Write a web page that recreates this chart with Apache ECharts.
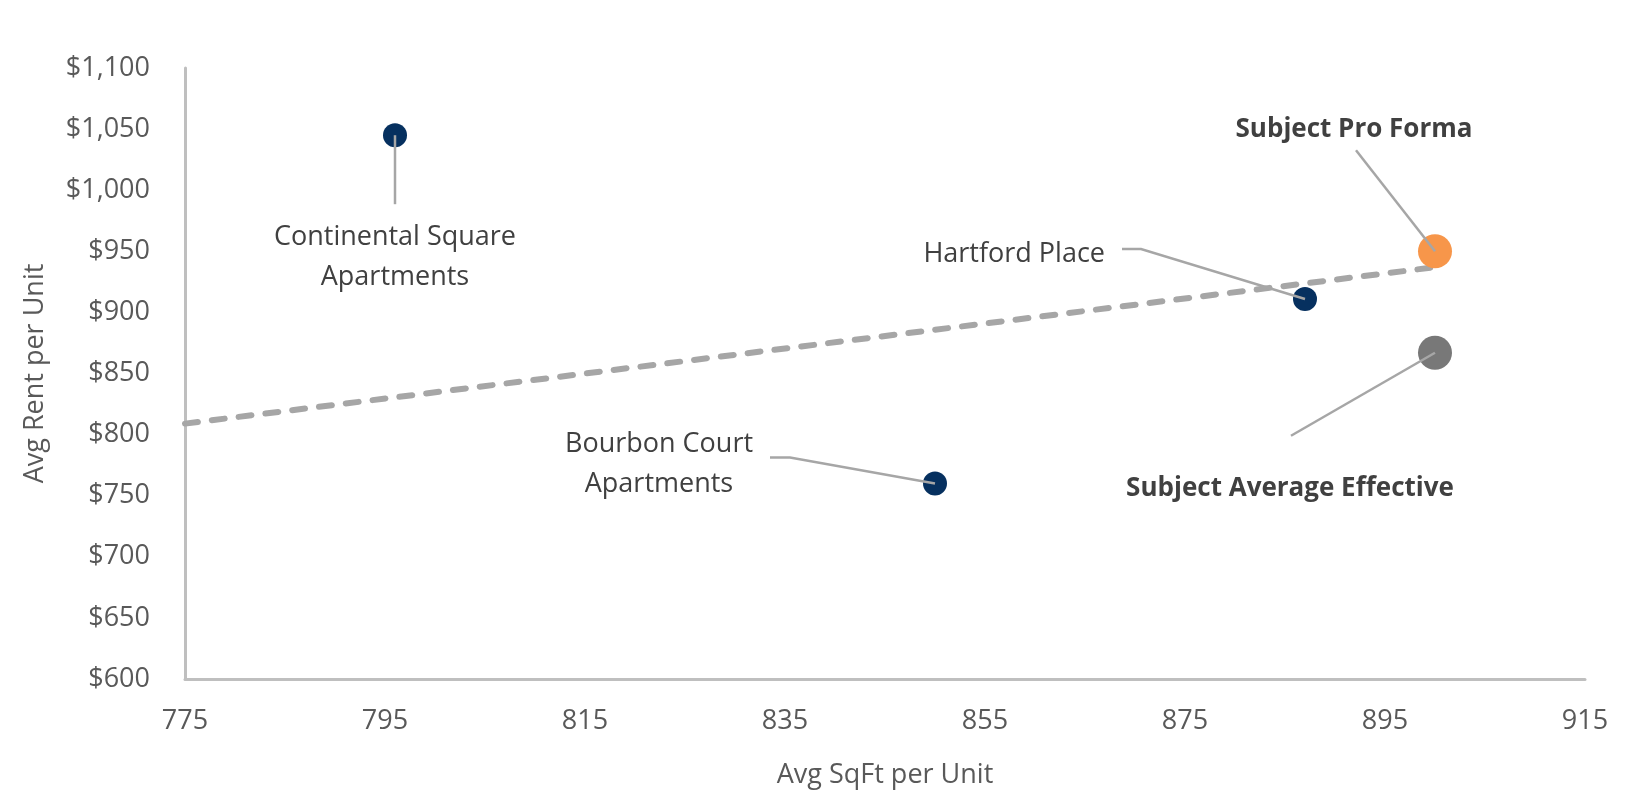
<!DOCTYPE html>
<html>
<head>
<meta charset="utf-8">
<script src="https://cdn.jsdelivr.net/npm/echarts@6/dist/echarts.min.js"></script>
<style>
  html, body { margin: 0; padding: 0; background: #ffffff; }
  #chart { width: 1635px; height: 811px; }
</style>
</head>
<body>
<div id="chart"></div>
<script>
// ---- data ----
const compNames = ['Continental Square\nApartments', 'Bourbon Court\nApartments', 'Hartford Place'];
const compSqFt = [796, 850, 887];
const compRent = [1045, 760, 911];
const subjectNames = ['Subject Pro Forma', 'Subject Average Effective'];
const subjectSqFt = [900, 900];
const subjectRent = [950, 867];
const trendSqFt = [775, 900];
const trendRent = [809, 937];
const xTickValues = [775, 795, 815, 835, 855, 875, 895, 915];
const yTickValues = [600, 650, 700, 750, 800, 850, 900, 950, 1000, 1050, 1100];

// ---- label styling (pixel offsets from the point, style only) ----
const labelStyles = [
  { line: [[0, 0], [0, 69]], text: [0, 122], align: 'center', size: 27, bold: false },
  { line: [[0, 0], [-145, -26], [-165, -26]], text: [-276, -19], align: 'center', size: 27, bold: false },
  { line: [[0, 0], [-164, -50], [-183, -50]], text: [-200, -45], align: 'right', size: 27, bold: false },
  { line: [[0, 0], [-79, -101]], text: [-81, -122], align: 'center', size: 26, bold: true },
  { line: [[0, 0], [-144, 83]], text: [-145, 136], align: 'center', size: 26, bold: true }
];

const FONT = '"Open Sans", "Noto Sans", sans-serif';
const allNames = compNames.concat(subjectNames);
const allX = compSqFt.concat(subjectSqFt);
const allY = compRent.concat(subjectRent);
const labelData = allNames.map((n, i) => ({ name: n, value: [allX[i], allY[i]] }));

function money(v) {
  return '$' + String(v).replace(/\B(?=(\d{3})+(?!\d))/g, ',');
}

const chart = echarts.init(document.getElementById('chart'), null, { renderer: 'canvas' });
chart.setOption({
  animation: false,
  backgroundColor: '#ffffff',
  grid: { left: 185, right: 50, top: 68, bottom: 132, containLabel: false },
  xAxis: {
    type: 'value',
    min: 775,
    max: 915,
    name: 'Avg SqFt per Unit',
    nameLocation: 'middle',
    nameGap: 83,
    nameTextStyle: { fontFamily: FONT, fontSize: 27, color: '#595959' },
    axisLine: { show: true, lineStyle: { color: '#BFBFBF', width: 3 } },
    axisTick: { show: false },
    splitLine: { show: false },
    axisLabel: {
      customValues: xTickValues,
      margin: 29,
      fontFamily: FONT, fontSize: 27, color: '#595959'
    }
  },
  yAxis: {
    type: 'value',
    min: 600,
    max: 1100,
    interval: 50,
    name: 'Avg Rent per Unit',
    nameLocation: 'middle',
    nameGap: 136,
    nameTextStyle: { fontFamily: FONT, fontSize: 27, color: '#595959' },
    axisLine: { show: true, lineStyle: { color: '#BFBFBF', width: 3 } },
    axisTick: { show: false },
    splitLine: { show: false },
    axisLabel: {
      customValues: yTickValues,
      margin: 35,
      fontFamily: FONT, fontSize: 27, color: '#595959',
      formatter: money
    }
  },
  series: [
    {
      type: 'line',
      name: 'Trend',
      data: trendSqFt.map((x, i) => [x, trendRent[i]]),
      symbol: 'none',
      z: 1,
      lineStyle: { color: '#A6A6A6', width: 6, type: [13, 14], cap: 'round' }
    },
    {
      type: 'scatter',
      name: 'Comps',
      data: compSqFt.map((x, i) => ({ name: compNames[i], value: [x, compRent[i]] })),
      symbolSize: 24,
      z: 2,
      itemStyle: { color: '#06305F', opacity: 1 }
    },
    {
      type: 'scatter',
      name: 'Subject Pro Forma',
      data: [{ name: subjectNames[0], value: [subjectSqFt[0], subjectRent[0]] }],
      symbolSize: 34,
      z: 2,
      itemStyle: { color: '#F7964A', opacity: 1 }
    },
    {
      type: 'scatter',
      name: 'Subject Average Effective',
      data: [{ name: subjectNames[1], value: [subjectSqFt[1], subjectRent[1]] }],
      symbolSize: 34,
      z: 2,
      itemStyle: { color: '#787878', opacity: 1 }
    },
    {
      type: 'custom',
      name: 'Labels',
      data: labelData,
      z: 5,
      clip: false,
      silent: true,
      renderItem: function (params, api) {
        const i = params.dataIndex;
        const s = labelStyles[i];
        const p = api.coord([api.value(0), api.value(1)]);
        const pts = s.line.map(o => [p[0] + o[0], p[1] + o[1]]);
        return {
          type: 'group',
          children: [
            {
              type: 'polyline',
              shape: { points: pts },
              style: { stroke: '#A6A6A6', lineWidth: 2.5, fill: null }
            },
            {
              type: 'text',
              style: {
                text: allNames[i],
                x: p[0] + s.text[0],
                y: p[1] + s.text[1],
                align: s.align,
                verticalAlign: 'middle',
                fontFamily: FONT,
                fontSize: s.size,
                fontWeight: s.bold ? 'bold' : 'normal',
                lineHeight: 40,
                fill: '#404040'
              }
            }
          ]
        };
      }
    }
  ]
});
</script>
</body>
</html>
